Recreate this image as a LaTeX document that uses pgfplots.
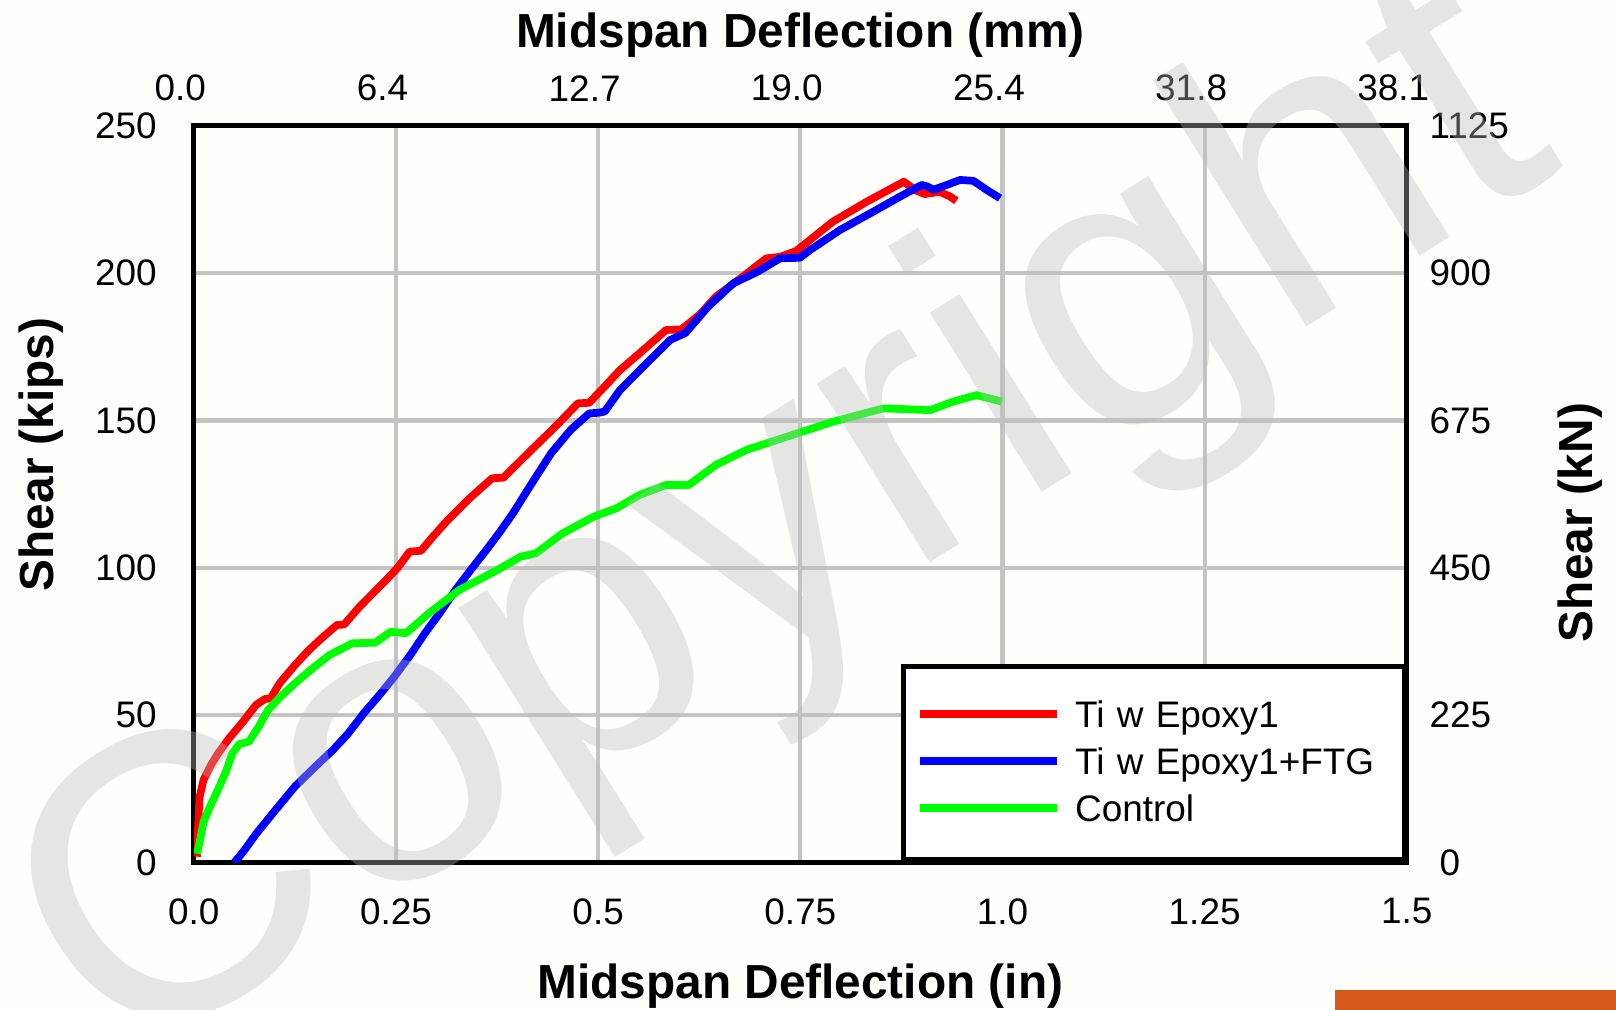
\documentclass[border=0pt]{standalone}
\usepackage{fontspec}
\setmainfont{Liberation Sans}
\usepackage{pgfplots}
\pgfplotsset{compat=1.18}
\definecolor{bgcol}{RGB}{254,254,250}
\definecolor{gridgray}{RGB}{196,196,196}
\definecolor{wmgray}{RGB}{188,188,188}
\definecolor{barorange}{RGB}{213,89,28}
\newcommand{\ticksize}{\fontsize{10.5}{12.6}\selectfont}
\newcommand{\labsize}{\fontsize{13.6}{16}\selectfont\bfseries}

\begin{document}
\begin{tikzpicture}
\path[use as bounding box, fill=bgcol] (-1.938cm,-1.474cm) rectangle (14.222cm,8.626cm);
\begin{axis}[
  scale only axis, width=12.13cm, height=7.369cm,
  xmin=0, xmax=1.5, ymin=0, ymax=250,
  xtick={0,0.25,0.5,0.75,1,1.25,1.5},
  xticklabels={0.0,0.25,0.5,0.75,1.0,1.25,1.5},
  ytick={0,50,100,150,200,250},
  grid=major,
  major grid style={draw=gridgray, line width=1.2pt},
  major tick length=0pt,
  axis line style={line width=1.5pt},
  /pgf/number format/assume math mode=true,
  tick label style={font=\ticksize},
  xticklabel style={anchor=north, inner sep=0pt, yshift=-0.35cm},
  yticklabel style={anchor=east, inner sep=0pt, xshift=-0.365cm},
  xlabel={Midspan Deflection (in)},
  ylabel={Shear (kips)},
  every axis x label/.style={at={(axis description cs:0.5,0)}, anchor=base, yshift=-1.359cm, font=\labsize},
  every axis y label/.style={at={(axis description cs:-0.1153,0.554)}, rotate=90, anchor=base, font=\labsize},
  legend style={at={(rel axis cs:1,0)}, anchor=south east, draw=black, line width=1.5pt, fill=white,
    inner xsep=0.123cm, inner ysep=0.263cm, row sep=0pt, column sep=0.14cm, font=\ticksize,
    nodes={inner sep=0pt, text height=0.347cm, text depth=0.123cm, text width=3.167cm, align=left}},
  legend cell align=left,
  legend image code/.code={\draw[#1, line width=2.2pt] (0cm,0.02cm) -- (1.377cm,0.02cm);},
]
\addplot[red, line width=2.2pt, line join=round] coordinates {
(0.004,2) (0.005,10) (0.007,22) (0.012,28) (0.021,33) (0.030,37) (0.044,42.3) (0.060,47.5)
(0.077,53.5) (0.088,55.5) (0.095,55.7) (0.106,60.8) (0.125,67) (0.142,72) (0.158,76.1)
(0.177,80.6) (0.186,80.8) (0.205,86.8) (0.222,91.5) (0.238,95.9) (0.252,100) (0.267,105.5)
(0.281,105.8) (0.297,111) (0.314,116.2) (0.343,124.1) (0.369,130.4) (0.383,130.6)
(0.409,137.7) (0.447,147.9) (0.475,155.8) (0.489,156) (0.508,161.5) (0.527,167.1)
(0.550,172.5) (0.570,177.3) (0.584,180.7) (0.603,180.9) (0.626,186) (0.6455,192)
(0.679,198.8) (0.708,205) (0.725,205.5) (0.745,207.5) (0.790,217.4) (0.832,224.2)
(0.878,231) (0.893,228) (0.904,226.8) (0.922,227.6) (0.935,226) (0.943,224.5)
};
\addlegendentry{Ti w Epoxy1}
\addplot[blue, line width=2.2pt, line join=round] coordinates {
(0.050,0) (0.062,4) (0.0775,9.9) (0.100,17.5) (0.125,25.8) (0.150,32.5) (0.172,38.2)
(0.190,43.5) (0.210,50.6) (0.230,57) (0.248,63.1) (0.268,70.5) (0.2858,77.8) (0.305,85)
(0.3236,92.5) (0.343,99.5) (0.3616,106) (0.378,112) (0.3947,118.5) (0.418,128.7)
(0.442,138.9) (0.466,146.8) (0.489,152.4) (0.500,152.6) (0.508,153) (0.527,160.3)
(0.560,169.4) (0.589,177.3) (0.608,179.7) (0.636,188.6) (0.667,196.5) (0.6975,200.5)
(0.725,205) (0.7496,205.2) (0.762,207.8) (0.799,214.6) (0.840,220.8) (0.873,225.9)
(0.900,229.9) (0.906,229.5) (0.915,228.3) (0.931,229.9) (0.9475,231.6) (0.964,231.3)
(0.9805,228.2) (0.997,225.4)
};
\addlegendentry{Ti w Epoxy1+FTG}
\addplot[green, line width=2.2pt, line join=round] coordinates {
(0.004,3) (0.008,8) (0.012,13.8) (0.020,19) (0.030,24.8) (0.040,31) (0.0475,37) (0.056,40.2)
(0.068,41) (0.080,46) (0.0918,51.8) (0.108,56.5) (0.125,60.8) (0.145,65.5) (0.1676,70.4)
(0.1959,74.4) (0.2243,74.6) (0.2432,78.3) (0.2622,77.8) (0.2906,84.6) (0.3284,92.5)
(0.3757,99.3) (0.4041,103.8) (0.423,104.9) (0.456,111.7) (0.494,117.3) (0.5225,120.2)
(0.551,124.7) (0.584,128.1) (0.612,128.1) (0.6455,134.9) (0.6833,140) (0.7212,143.4)
(0.7908,149.6) (0.8527,154.1) (0.9104,153.5) (0.939,156.4) (0.968,158.6) (0.999,156.4)
};
\addlegendentry{Control}
\end{axis}
\begin{axis}[
  scale only axis, width=12.13cm, height=7.369cm,
  xmin=0, xmax=1.5, ymin=0, ymax=1125,
  axis x line*=top, axis y line*=right,
  xtick={0,0.25,0.5,0.75,1,1.25,1.5},
  xticklabels={0.0,6.4,12.7,19.0,25.4,31.8,38.1},
  ytick={0,225,450,675,900,1125},
  yticklabels={\hspace{0.1cm}0,225,450,675,900,1125},
  major tick length=0pt,
  axis line style={line width=1.5pt},
  tick label style={font=\ticksize},
  xticklabel style={anchor=south, inner sep=0pt, yshift=0.237cm, xshift=-0.135cm},
  yticklabel style={anchor=west, inner sep=0pt, xshift=0.22cm},
  xlabel={Midspan Deflection (mm)},
  ylabel={Shear (kN)},
  every axis x label/.style={at={(axis description cs:0.5,1)}, anchor=base, yshift=0.782cm, font=\labsize},
  every axis y label/.style={at={(axis description cs:1.1531,0.4615)}, rotate=90, anchor=base, font=\labsize},
]
\addplot[draw=none] coordinates {(0,0) (1.5,1125)};
\end{axis}
\fill[barorange] (11.412cm,-1.474cm) rectangle (14.222cm,-1.274cm);
\begin{scope}
\clip (-1.938cm,-1.474cm) rectangle (14.222cm,8.626cm);
\node[rotate=32, anchor=base, text=wmgray, text opacity=0.37, inner sep=0pt,
  font=\fontsize{113.8}{113.8}\selectfont] at (6.47cm,2.44cm) {Copyright};
\end{scope}
\end{tikzpicture}
\end{document}
